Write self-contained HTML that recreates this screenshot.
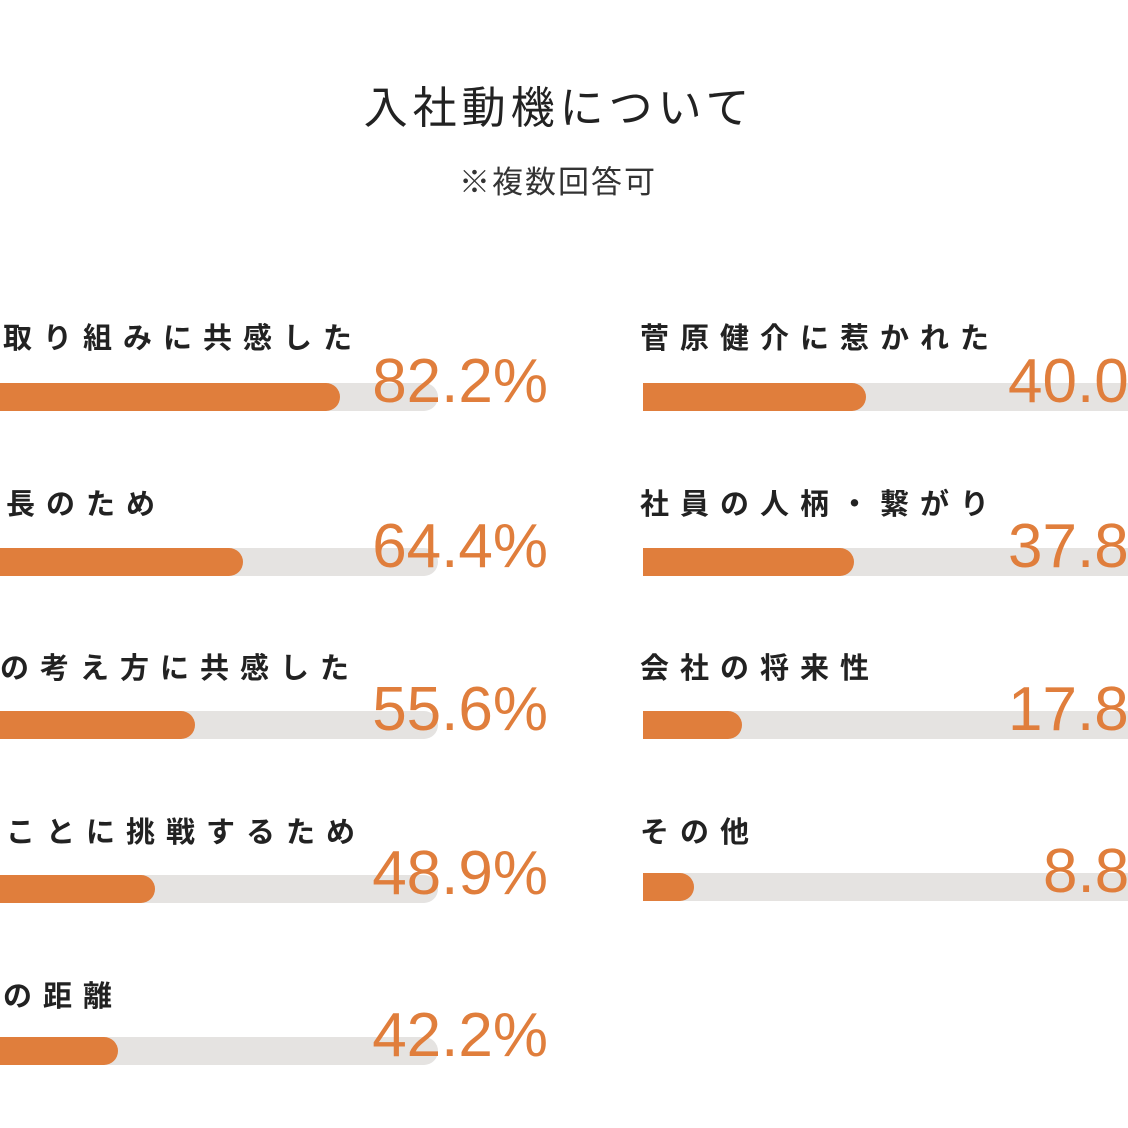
<!DOCTYPE html>
<html><head><meta charset="utf-8"><style>
html,body{margin:0;padding:0;background:#fff;overflow:hidden;}
body{width:1128px;height:1128px;position:relative;font-family:"Liberation Sans","Noto Sans CJK JP",sans-serif;}
#wrap{position:absolute;left:0;top:0;width:1128px;height:1128px;overflow:hidden;}
.t{position:absolute;white-space:nowrap;}
.title{left:0;width:1118px;text-align:center;top:74px;font-size:44px;color:#222;letter-spacing:5px;font-family:"Noto Sans CJK JP",sans-serif;line-height:60px;}
.sub{left:0;width:1116px;text-align:center;top:158px;font-size:31px;color:#333;letter-spacing:2px;font-family:"Noto Sans CJK JP",sans-serif;line-height:44px;}
.lab{font-size:29px;font-weight:bold;letter-spacing:11px;color:#222;font-family:"Noto Sans CJK JP",sans-serif;line-height:40px;}
.track{position:absolute;height:28px;background:#e5e3e1;border-radius:0 14px 14px 0;width:546px;}
.fill{position:absolute;left:0;top:0;height:28px;background:#e07e3c;border-radius:0 14px 14px 0;}
.num{position:absolute;font-size:62px;color:#e07e3c;line-height:62px;text-align:right;width:300px;}
</style></head><body><div id="wrap">
<div class="t title">入社動機について</div>
<div class="t sub">※複数回答可</div>

<div class="t lab" style="left:3px;top:316px">取り組みに共感した</div>
<div class="track" style="left:-108px;top:383px"><div class="fill" style="width:448px"></div></div>
<div class="num" style="left:248px;top:351px">82.2%</div>

<div class="t lab" style="left:6px;top:482px">長のため</div>
<div class="track" style="left:-108px;top:548px"><div class="fill" style="width:351px"></div></div>
<div class="num" style="left:248px;top:516px">64.4%</div>

<div class="t lab" style="left:0px;top:646px">の考え方に共感した</div>
<div class="track" style="left:-108px;top:711px"><div class="fill" style="width:303px"></div></div>
<div class="num" style="left:248px;top:679px">55.6%</div>

<div class="t lab" style="left:6px;top:810px">ことに挑戦するため</div>
<div class="track" style="left:-108px;top:875px"><div class="fill" style="width:263px"></div></div>
<div class="num" style="left:248px;top:843px">48.9%</div>

<div class="t lab" style="left:3px;top:974px">の距離</div>
<div class="track" style="left:-108px;top:1037px"><div class="fill" style="width:226px"></div></div>
<div class="num" style="left:248px;top:1005px">42.2%</div>

<div class="t lab" style="left:640px;top:316px">菅原健介に惹かれた</div>
<div class="track" style="left:643px;top:383px;width:546px"><div class="fill" style="width:223px"></div></div>
<div class="t" style="left:1008px;top:351px;font-size:62px;color:#e07e3c;line-height:62px;">40.0</div>

<div class="t lab" style="left:640px;top:482px">社員の人柄・繋がり</div>
<div class="track" style="left:643px;top:548px;width:546px"><div class="fill" style="width:211px"></div></div>
<div class="t" style="left:1008px;top:516px;font-size:62px;color:#e07e3c;line-height:62px;">37.8</div>

<div class="t lab" style="left:640px;top:646px">会社の将来性</div>
<div class="track" style="left:643px;top:711px;width:546px"><div class="fill" style="width:99px"></div></div>
<div class="t" style="left:1008px;top:679px;font-size:62px;color:#e07e3c;line-height:62px;">17.8</div>

<div class="t lab" style="left:640px;top:810px">その他</div>
<div class="track" style="left:643px;top:873px;width:546px"><div class="fill" style="width:51px"></div></div>
<div class="t" style="left:1043px;top:841px;font-size:62px;color:#e07e3c;line-height:62px;">8.8</div>
</div></body></html>
